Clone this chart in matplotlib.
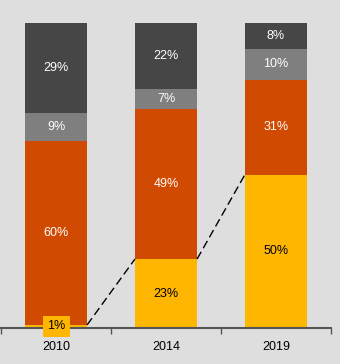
import numpy as np
import matplotlib.pyplot as plt

plt.rcParams['font.family'] = ['Liberation Sans', 'DejaVu Sans']

years = ['2010', '2014', '2019']
# shares per year, bottom to top
yellow = [1.0, 22.6, 50.3]
orange = [60.4, 49.2, 30.9]
grey = [9.2, 6.6, 10.4]
dark = [29.4, 21.6, 8.4]

series = [yellow, orange, grey, dark]
colors = ['#FFB600', '#D04A02', '#7F7F7F', '#464646']
text_colors = ['black', 'white', 'white', 'white']

fig = plt.figure(figsize=(3.4, 3.64), dpi=100, facecolor='#DEDEDE')
ax = fig.add_axes([1/340, 36/364, 330/340, 305/364])
ax.set_facecolor('#DEDEDE')

x = np.arange(len(years))
width = 0.565
bottom = np.zeros(len(years))
for vals, c, tc in zip(series, colors, text_colors):
    vals = np.array(vals)
    ax.bar(x, vals, width, bottom=bottom, color=c, linewidth=0)
    for xi, b, v in zip(x, bottom, vals):
        if v < 3:
            # tiny share: label sits on the axis in a box
            ax.text(xi, 0.5, '%d%%' % round(v), ha='center', va='center',
                    fontsize=9, color=tc,
                    bbox=dict(boxstyle='square,pad=0.35', fc=c, ec='none'))
        else:
            ax.text(xi, b + v / 2, '%d%%' % round(v), ha='center', va='center',
                    fontsize=9, color=tc)
    bottom += vals

# dashed connectors between yellow tops
for i in range(len(years) - 1):
    ax.plot([x[i] + width / 2, x[i + 1] - width / 2], [yellow[i], yellow[i + 1]],
            color='black', linestyle=(0, (6, 3)), linewidth=1)

ax.set_xlim(-0.5, 2.5)
ax.set_ylim(0, 100)
for s in ['top', 'right', 'left']:
    ax.spines[s].set_visible(False)
ax.spines['bottom'].set_color('#555555')
ax.spines['bottom'].set_linewidth(1.5)
ax.set_yticks([])
ax.set_xticks(x)
ax.set_xticklabels(years, fontsize=9)
ax.tick_params(axis='x', which='major', length=0, pad=9.5)
ax.set_xticks([-0.5, 0.5, 1.5, 2.5], minor=True)
ax.tick_params(axis='x', which='minor', length=4, width=1, color='#555555')

fig.savefig('out.png', dpi=100, facecolor=fig.get_facecolor())
